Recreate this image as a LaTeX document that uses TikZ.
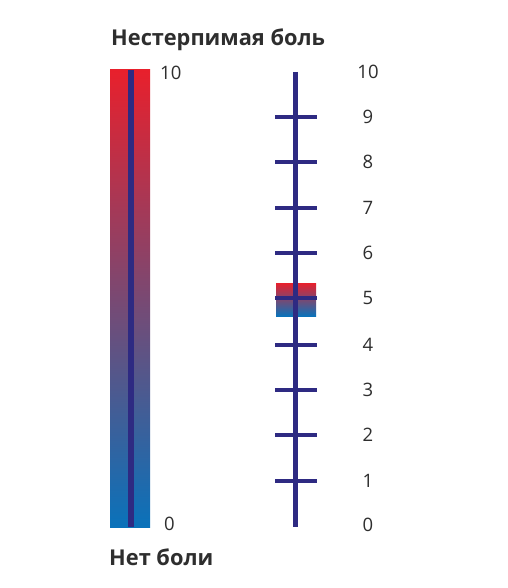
\documentclass[tikz,border=0pt]{standalone}
\usepackage{fontspec}
\setmainfont{Open Sans}
\definecolor{pred}{HTML}{E8202C}
\definecolor{pblue}{HTML}{0A72BA}
\definecolor{navy}{HTML}{2E2A82}
\definecolor{txt}{HTML}{2E2E2E}
\begin{document}
\begin{tikzpicture}[x=1pt,y=-1pt,
  num/.style={text=txt,font=\fontsize{18.5}{20}\selectfont,inner sep=0pt},
  ttl/.style={text=txt,font=\bfseries\fontsize{21.8}{24}\selectfont,inner sep=0pt,anchor=west},
  axis/.style={draw=navy,line width=4.5pt},
  tick/.style={draw=navy,line width=4.5pt}]
\useasboundingbox[fill=white] (0,0) rectangle (507,588);
% left bar
\shade[top color=pred,bottom color=pblue] (110,70) rectangle (150,527);
\coordinate (lt) at (130.5,70);
\coordinate (lb) at (130.5,527);
\draw[draw=navy,line width=6pt] (lt) -- (lb);
\node[ttl] (top) at (111,40) {Нестерпимая боль};
\node[ttl] (bot) at (109,557) {Нет боли};
\node[num,anchor=west] (l10) at (160,73) {10};
\node[num,anchor=west] (l0) at (164,524) {0};
% right scale
\shade[top color=pred,bottom color=pblue] (276,283) rectangle (316,316);
\coordinate (rt) at (295.5,72);
\coordinate (rb) at (295.5,527);
\draw[axis] (rt) -- (rb);
\foreach \v/\y in {9/117,8/162,7/208,6/253,5/298,4/345,3/390,2/435,1/481}{
  \coordinate (ta\v) at (275,\y);
  \coordinate (tb\v) at (317,\y);
  \draw[tick] (ta\v) -- (tb\v);
}
\foreach \v/\y in {10/72,9/117,8/162,7/208,6/253,5/298,4/345,3/390,2/435,1/481,0/525}{
  \node[num] (n\v) at (368,\y) {\v};
}
\end{tikzpicture}
\end{document}
